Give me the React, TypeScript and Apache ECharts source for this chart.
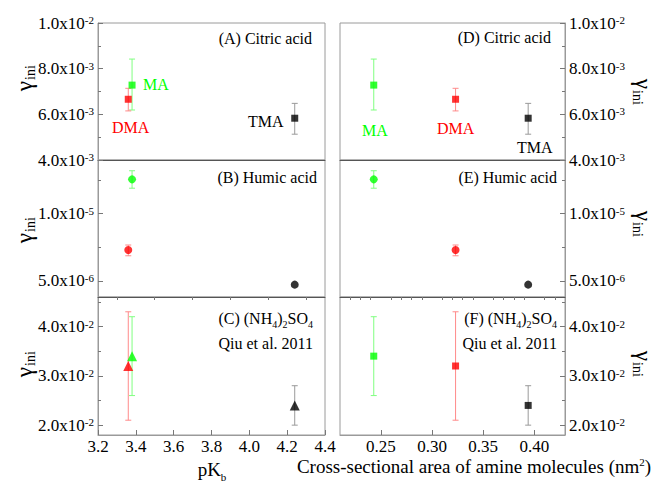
import React, { useEffect, useRef } from "react";
import * as echarts from "echarts";

// ---- data ----
const amines = ["MA", "DMA", "TMA"];
const pKb = [3.38, 3.36, 4.24];
const crossArea = [0.243, 0.323, 0.394];

const citric = [7.28e-3, 6.66e-3, 5.83e-3];
const citricLow = [6.19e-3, 6.15e-3, 5.13e-3];
const citricHigh = [8.42e-3, 7.14e-3, 6.48e-3];

const humic = [1.256e-5, 7.3e-6, 4.72e-6];
const humicLow = [1.19e-5, 6.87e-6, 4.72e-6];
const humicHigh = [1.32e-5, 7.67e-6, 4.72e-6];

const ammSulf = [3.4e-2, 3.2e-2, 2.4e-2];
const ammSulfLow = [2.6e-2, 2.1e-2, 2.0e-2];
const ammSulfHigh = [4.2e-2, 4.3e-2, 2.8e-2];

// ---- tick values ----
const pKbTicks = [3.2, 3.4, 3.6, 3.8, 4.0, 4.2, 4.4];
const pKbMinorTicks = [3.3, 3.5, 3.7, 3.9, 4.1, 4.3];
const areaTicks = [0.25, 0.3, 0.35, 0.4];
const areaMinorTicks = [0.22, 0.23, 0.24, 0.26, 0.27, 0.28, 0.29, 0.31, 0.32, 0.33, 0.34, 0.36, 0.37, 0.38, 0.39, 0.41, 0.42];

const citricTicks = [4e-3, 6e-3, 8e-3, 1e-2];
const citricMinorTicks = [5e-3, 7e-3, 9e-3];
const humicTicks = [5e-6, 1e-5];
const humicMinorTicks = [7.5e-6, 1.25e-5];
const ammSulfTicks = [2e-2, 3e-2, 4e-2];
const ammSulfMinorTicks = [2.5e-2, 3.5e-2, 4.5e-2];

const pKbRange = [3.2, 4.4];
const areaRange = [0.21, 0.43];
const citricRange = [4e-3, 1e-2];
const humicRange = [3.8e-6, 1.4e-5];
const ammSulfRange = [1.8e-2, 4.6e-2];

const markColors = ["#00ff00", "#ff0000", "#000000"];
const errColors = ["#80ff80", "#ff8a8a", "#9a9a9a"];

const FONT = "'Liberation Serif', 'Times New Roman', serif";

function sci(v: number) {
  const e = Math.floor(Math.log10(v) + 1e-9);
  const m = v / Math.pow(10, e);
  return `{m|${m.toFixed(1)}x10}{e|${e}}`;
}

const sciRich = {
  m: { fontFamily: FONT, fontSize: 17, color: "#000", lineHeight: 17 },
  e: { fontFamily: FONT, fontSize: 11, color: "#000", verticalAlign: "top" as const, lineHeight: 11 },
};

export default function App() {
  const ref = useRef<HTMLDivElement>(null);
  useEffect(() => {
    if (!ref.current) return;
    const chart = echarts.init(ref.current, undefined, { renderer: "svg" });

    const rows = [
      { y: citric, lo: citricLow, hi: citricHigh, range: citricRange, ticks: citricTicks, minor: citricMinorTicks },
      { y: humic, lo: humicLow, hi: humicHigh, range: humicRange, ticks: humicTicks, minor: humicMinorTicks },
      { y: ammSulf, lo: ammSulfLow, hi: ammSulfHigh, range: ammSulfRange, ticks: ammSulfTicks, minor: ammSulfMinorTicks },
    ];
    const cols = [
      { x: pKb, range: pKbRange, ticks: pKbTicks, minor: pKbMinorTicks, left: 98, width: 227, digits: 1 },
      { x: crossArea, range: areaRange, ticks: areaTicks, minor: areaMinorTicks, left: 340, width: 225, digits: 2 },
    ];
    const tops = [23, 160, 297];
    const heights = [137, 137, 138];
    const symbols = [
      ["rect", "circle", "triangle"],
      ["rect", "circle", "rect"],
    ];
    const symSizes: Record<string, number> = { rect: 7, circle: 8, triangle: 10 };

    const grids: any[] = [];
    const xAxes: any[] = [];
    const yAxes: any[] = [];
    const minorX: any[] = [];
    const minorY: any[] = [];
    const series: any[] = [];

    let i = 0;
    for (let c = 0; c < 2; c++) {
      for (let r = 0; r < 3; r++) {
        const col = cols[c];
        const row = rows[r];
        grids.push({
          left: col.left, top: tops[r], width: col.width, height: heights[r],
          show: true, borderColor: "#9a9a9a", borderWidth: 1, containLabel: false,
        });
        const bottomRow = r === 2;
        xAxes.push({
          type: "value", gridIndex: i, min: col.range[0], max: col.range[1],
          axisLine: { show: true, lineStyle: { color: bottomRow ? "#9a9a9a" : "#555", width: 1 } },
          axisTick: { show: bottomRow, inside: true, length: 5, customValues: col.ticks, lineStyle: { color: "#777" } },
          axisLabel: {
            show: bottomRow, customValues: col.ticks, margin: 3,
            fontFamily: FONT, fontSize: 17, color: "#000",
            formatter: (v: number) => v.toFixed(col.digits),
          },
          splitLine: { show: false },
        });
        minorX.push({
          type: "value", gridIndex: i, min: col.range[0], max: col.range[1],
          axisLine: { show: false },
          axisTick: { show: bottomRow, inside: true, length: 3, customValues: col.minor, lineStyle: { color: "#777" } },
          axisLabel: { show: false },
          splitLine: { show: false },
        });
        yAxes.push({
          type: "value", gridIndex: i, position: c === 0 ? "left" : "right",
          min: row.range[0], max: row.range[1],
          axisLine: { show: true, lineStyle: { color: "#9a9a9a", width: 1 } },
          axisTick: { show: true, inside: true, length: 5, customValues: row.ticks, lineStyle: { color: "#777" } },
          axisLabel: {
            show: true, customValues: row.ticks, margin: 4,
            fontFamily: FONT, fontSize: 17,
            formatter: (v: number) => sci(v), rich: sciRich,
          },
          splitLine: { show: false },
        });
        minorY.push({
          type: "value", gridIndex: i, position: c === 0 ? "left" : "right",
          min: row.range[0], max: row.range[1],
          axisLine: { show: false },
          axisTick: { show: true, inside: true, length: 3, customValues: row.minor, lineStyle: { color: "#777" } },
          axisLabel: { show: false },
          splitLine: { show: false },
        });

        const errData = amines
          .map((_, k) => [col.x[k], row.lo[k], row.hi[k], k])
          .filter((d) => d[2] > d[1]);
        series.push({
          type: "custom", xAxisIndex: i, yAxisIndex: i, z: 2,
          data: errData,
          encode: { x: 0, y: [1, 2] },
          renderItem: (params: any, api: any) => {
            const x = api.value(0);
            const pLo = api.coord([x, api.value(1)]);
            const pHi = api.coord([x, api.value(2)]);
            const color = errColors[api.value(3)];
            const w = 3;
            const st = { stroke: color, lineWidth: 1 };
            return {
              type: "group",
              children: [
                { type: "line", shape: { x1: pLo[0], y1: pLo[1], x2: pHi[0], y2: pHi[1] }, style: st },
                { type: "line", shape: { x1: pLo[0] - w, y1: pLo[1], x2: pLo[0] + w, y2: pLo[1] }, style: st },
                { type: "line", shape: { x1: pHi[0] - w, y1: pHi[1], x2: pHi[0] + w, y2: pHi[1] }, style: st },
              ],
            };
          },
        });
        const sym = symbols[c][r];
        series.push({
          type: "scatter", xAxisIndex: i, yAxisIndex: i, z: 3,
          symbol: sym, symbolSize: symSizes[sym],
          data: amines.map((name, k) => ({ name, value: [col.x[k], row.y[k]], itemStyle: { color: markColors[k] } })),
        });
        i++;
      }
    }

    const txt = (x: number, y: number, text: string, opts: any = {}) => ({
      type: "text", x, y, silent: true,
      style: {
        text, fontFamily: FONT, fontSize: 16, fill: opts.fill || "#000",
        textAlign: opts.align || "left", textVerticalAlign: "middle",
        rich: opts.rich,
      },
    });

    // rotated gamma_ini label: two plain texts inside a rotated group
    const gammaLabel = (x: number, y: number, left: boolean) => ({
      type: "group",
      x, y,
      rotation: left ? Math.PI / 2 : -Math.PI / 2,
      silent: true,
      children: [
        {
          type: "text", x: -4, y: 0,
          style: { text: "γ", fontFamily: FONT, fontSize: 23, fill: "#000", textAlign: "right", textVerticalAlign: "middle" },
        },
        {
          type: "text", x: -3, y: 6,
          style: { text: "ini", fontFamily: FONT, fontSize: 14, fill: "#000", textAlign: "left", textVerticalAlign: "middle" },
        },
      ],
    });

    const subRich = {
      n: { fontFamily: FONT, fontSize: 16, color: "#000", lineHeight: 18 },
      s: { fontFamily: FONT, fontSize: 10, color: "#000", verticalAlign: "bottom" as const, lineHeight: 10, padding: [0, 0, -2, 0] },
    };

    const graphics: any[] = [
      txt(312, 38, "(A) Citric acid", { align: "right" }),
      txt(143, 84, "MA", { fill: "#00ff00" }),
      txt(112, 127, "DMA", { fill: "#ff0000" }),
      txt(248, 121, "TMA"),
      txt(551, 37, "(D) Citric acid", { align: "right" }),
      txt(362, 130, "MA", { fill: "#00ff00" }),
      txt(437, 128, "DMA", { fill: "#ff0000" }),
      txt(517, 147, "TMA"),
      txt(317, 177, "(B) Humic acid", { align: "right" }),
      txt(557, 177, "(E) Humic acid", { align: "right" }),
      txt(313, 318, "{n|(C) (NH}{s|4}{n|)}{s|2}{n|SO}{s|4}", { align: "right", rich: subRich }),
      txt(313, 343, "Qiu et al. 2011", { align: "right" }),
      txt(557, 318, "{n|(F) (NH}{s|4}{n|)}{s|2}{n|SO}{s|4}", { align: "right", rich: subRich }),
      txt(557, 343, "Qiu et al. 2011", { align: "right" }),
      gammaLabel(24, 77, true),
      gammaLabel(24, 229, true),
      gammaLabel(24, 363, true),
      gammaLabel(643, 93, false),
      gammaLabel(643, 225, false),
      gammaLabel(643, 365, false),
      txt(212, 469, "{n|pK}{s|b}", {
        align: "center",
        rich: {
          n: { fontFamily: FONT, fontSize: 19, color: "#000", lineHeight: 20 },
          s: { fontFamily: FONT, fontSize: 11, color: "#000", verticalAlign: "bottom", lineHeight: 11, padding: [0, 0, -3, 0] },
        },
      }),
      txt(474, 466, "{n|Cross-sectional area of amine molecules (nm}{e|2}{n|)}", {
        align: "center",
        rich: {
          n: { fontFamily: FONT, fontSize: 19, color: "#000", lineHeight: 19 },
          e: { fontFamily: FONT, fontSize: 11, color: "#000", verticalAlign: "top", lineHeight: 11 },
        },
      }),
    ];

    chart.setOption({
      animation: false,
      backgroundColor: "#fff",
      textStyle: { fontFamily: FONT },
      grid: grids,
      xAxis: [...xAxes, ...minorX],
      yAxis: [...yAxes, ...minorY],
      series,
      graphic: graphics,
    });
    return () => chart.dispose();
  }, []);
  return <div ref={ref} style={{ width: 654, height: 481, position: "absolute", left: 0, top: 0 }} />;
}
